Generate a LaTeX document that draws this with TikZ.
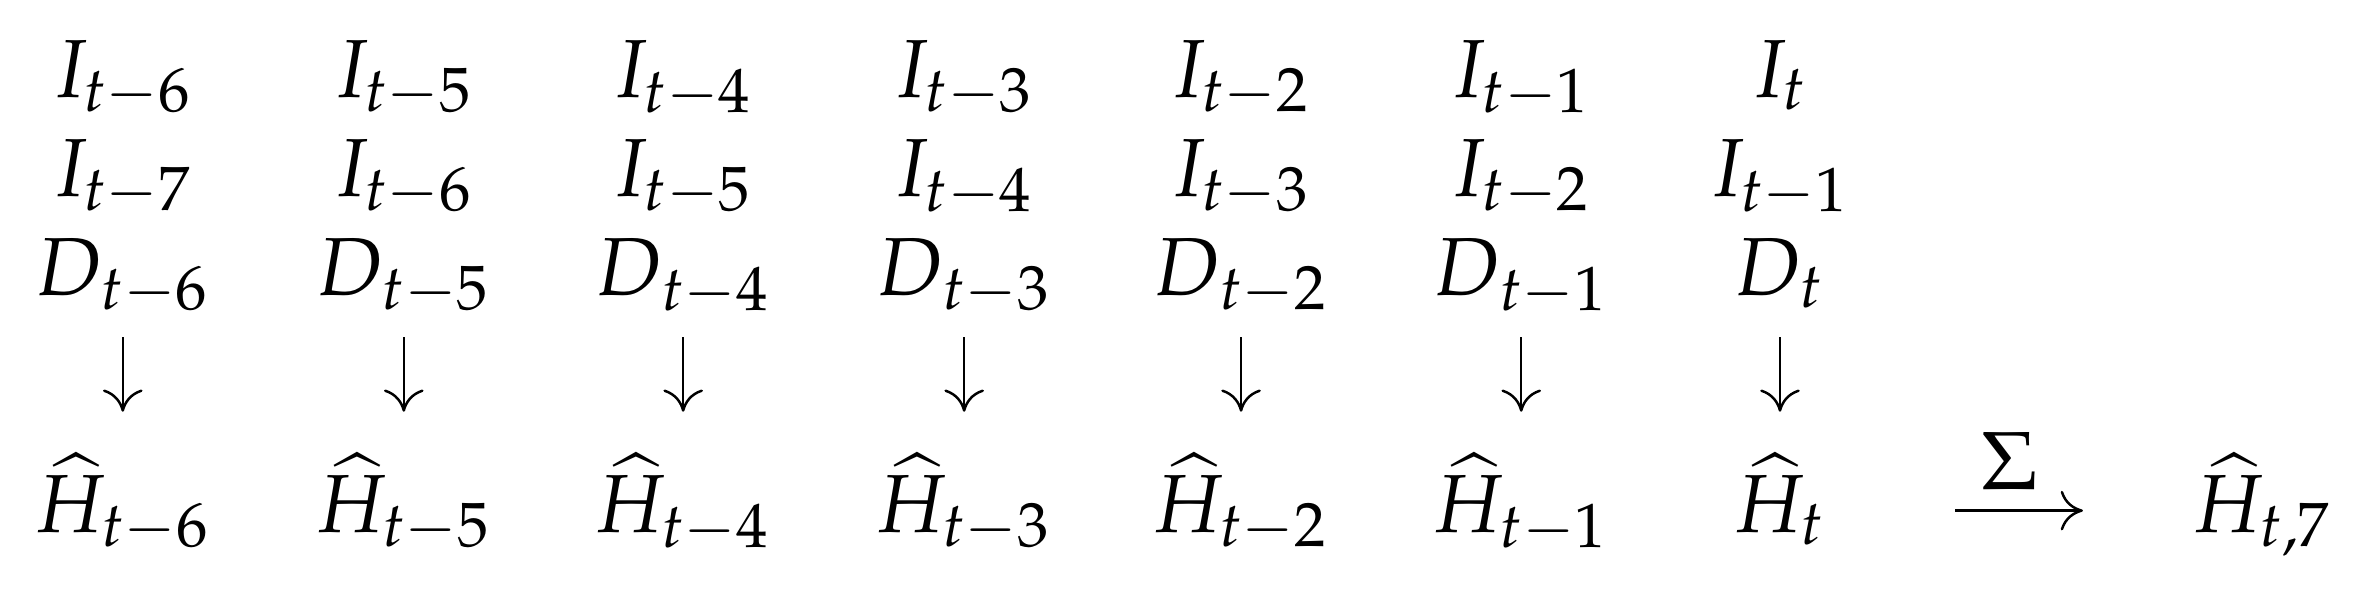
\documentclass[tikz,border=0pt]{standalone}
\usepackage{mathpazo}
\usetikzlibrary{arrows.meta}

\tikzset{
	term/.style={inner sep=0pt, anchor=base},
	downarr/.style={-{To[length=2.7pt,width=4.8pt]}, line width=0.3pt,
		shorten <=5.1pt, shorten >=14.6pt},
	sumarr/.style={-{To[length=2.7pt,width=4.8pt]}, line width=0.3pt,
		shorten <=15.4pt, shorten >=13.1pt}
}
% Index t-k bzw. t
\newcommand{\lagidx}[1]{\ifnum#1=0 t\else t-#1\fi}

\begin{document}
\begin{tikzpicture}[x=1pt,y=1pt]
	\useasboundingbox (0,0) rectangle (285.9,-73.4);
	% Spalten mit Eingaben und Schaetzungen
	\foreach \k/\x in {6/14.9,5/49.0,4/82.9,3/117.0,2/150.6,1/184.6,0/216.0}{
		\pgfmathtruncatemacro{\kk}{\k+1}
		\node[term] (a\k) at (\x,-11.77) {$I_{\lagidx{\k}}$};
		\node[term] (b\k) at (\x,-23.79) {$I_{t-\kk}$};
		\node[term] (d\k) at (\x,-35.8) {$D_{\lagidx{\k}}$};
		\node[term] (h\k) at (\x,-64.56) {$\widehat{H}_{\lagidx{\k}}$};
		\draw[downarr] (d\k.base) -- (h\k.base);
	}
	% Summe
	\node[term] (sum) at (274.6,-64.56) {$\widehat{H}_{t,7}$};
	\draw[sumarr] ([yshift=2.6pt]h0.base east) -- ([yshift=2.6pt]sum.base west)
		node[midway, above=2.4pt, inner sep=0pt] (sig) {$\Sigma$};
\end{tikzpicture}
\end{document}
